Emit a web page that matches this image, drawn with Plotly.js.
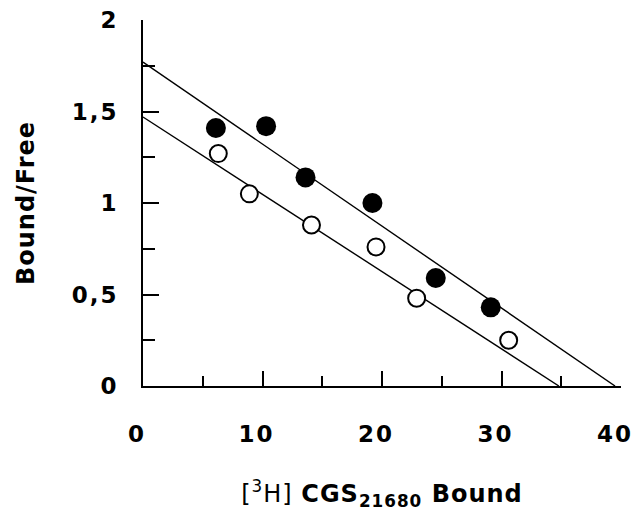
<!DOCTYPE html>
<html>
<head>
<meta charset="utf-8">
<script src="https://cdn.plot.ly/plotly-3.0.1.min.js"></script>
<style>
  html, body { margin: 0; padding: 0; background: #fff; }
  #chart { width: 637px; height: 512px; }
  .xtick text, .ytick text { letter-spacing: 2px; }
  .g-xtitle text, .g-ytitle text { letter-spacing: 1px; }
</style>
</head>
<body>
<div id="chart"></div>
<script>
// Data
const filledX = [6.1, 10.3, 13.6, 19.2, 24.5, 29.1];
const filledY = [1.41, 1.42, 1.14, 1.00, 0.59, 0.43];
const openX = [6.3, 8.9, 14.1, 19.5, 22.9, 30.6];
const openY = [1.27, 1.05, 0.88, 0.76, 0.48, 0.25];
const fitUpperX = [0, 39.5];
const fitUpperY = [1.77, 0];
const fitLowerX = [0, 34.8];
const fitLowerY = [1.47, 0];
const xTickVals = [0, 10, 20, 30, 40];
const xTickText = ['0', '10', '20', '30', '40'];
const yTickVals = [0, 0.5, 1, 1.5, 2];
const yTickText = ['0', '0,5', '1', '1,5', '2'];
const xTitle = '[<sup>3</sup>H] <b>CGS<sub>21680</sub> Bound</b>';
const yTitle = '<b>Bound/Free</b>';

const traces = [
  { x: fitUpperX, y: fitUpperY, mode: 'lines', line: { color: '#000', width: 1.4 }, hoverinfo: 'skip' },
  { x: fitLowerX, y: fitLowerY, mode: 'lines', line: { color: '#000', width: 1.4 }, hoverinfo: 'skip' },
  { x: filledX, y: filledY, mode: 'markers', marker: { color: '#000', size: 20, line: { width: 0 } }, cliponaxis: false },
  { x: openX, y: openY, mode: 'markers', marker: { color: '#fff', size: 17, line: { color: '#000', width: 2 } }, cliponaxis: false }
];

const tickFont = { family: 'DejaVu Sans', size: 23, color: '#000', weight: 'bold' };
const titleFont = { family: 'DejaVu Sans', size: 24, color: '#000' };

const layout = {
  width: 637, height: 512,
  showlegend: false,
  paper_bgcolor: '#fff', plot_bgcolor: '#fff',
  margin: { l: 143, r: 16, t: 20, b: 126 },
  xaxis: {
    range: [0, 40], showgrid: false, zeroline: false,
    showline: true, linecolor: '#000', linewidth: 2,
    tickmode: 'array', tickvals: xTickVals, ticktext: xTickText,
    ticks: 'inside', ticklen: 15, tickwidth: 2, tickcolor: '#000',
    minor: { dtick: 5, ticks: 'inside', ticklen: 10, tickwidth: 2, tickcolor: '#000' },
    tickfont: tickFont, ticklabelstandoff: 26, ticklabelshift: -6,
    title: { text: xTitle, font: titleFont, standoff: 40 }
  },
  yaxis: {
    range: [0, 2], showgrid: false, zeroline: false,
    showline: true, linecolor: '#000', linewidth: 2,
    tickmode: 'array', tickvals: yTickVals, ticktext: yTickText,
    ticks: 'inside', ticklen: 16, tickwidth: 2, tickcolor: '#000',
    minor: { dtick: 0.25, ticks: 'inside', ticklen: 12, tickwidth: 2, tickcolor: '#000' },
    tickfont: tickFont, ticklabelstandoff: 18,
    title: { text: yTitle, font: titleFont, standoff: 30 }
  }
};

Plotly.newPlot('chart', traces, layout, { staticPlot: true, displayModeBar: false });
</script>
</body>
</html>
